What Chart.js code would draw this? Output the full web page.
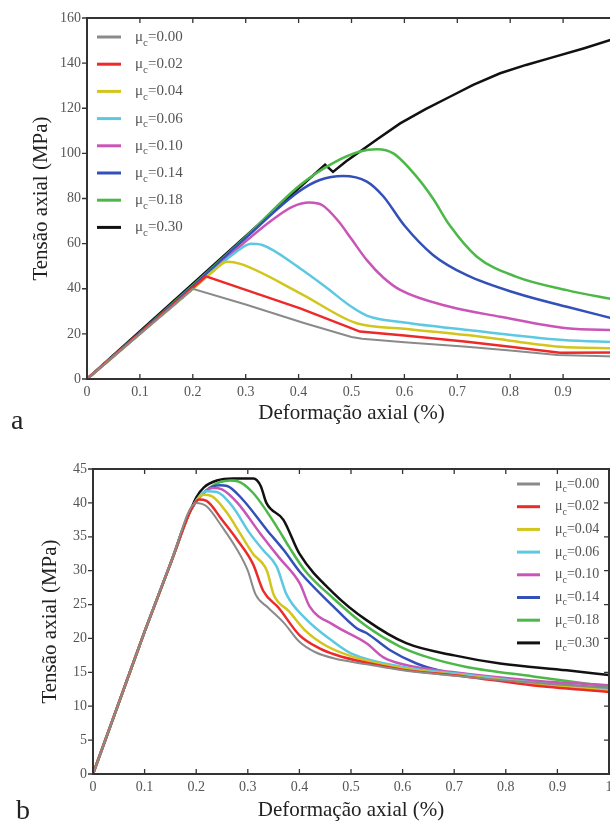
<!DOCTYPE html>
<html>
<head>
<meta charset="utf-8">
<script src="https://cdn.jsdelivr.net/npm/chart.js@4.4.0/dist/chart.umd.min.js"></script>
<style>
  body { margin: 0; width: 610px; height: 823px; overflow: hidden; background: #fff; position: relative; }
  canvas { position: absolute; left: 0; }
  #chartTop { top: 0; }
  #chartBottom { top: 450px; }
  .tag { position: absolute; font: 28px "Liberation Serif", serif; line-height: 28px; color: #222; }
</style>
</head>
<body>
<canvas id="chartTop" width="626" height="440"></canvas>
<canvas id="chartBottom" width="619" height="380"></canvas>
<div class="tag" style="left:11px;top:406px">a</div>
<div class="tag" style="left:16px;top:796px">b</div>
<script>
// friction coefficients (legend) and colours
const muValues = ["0.00", "0.02", "0.04", "0.06", "0.10", "0.14", "0.18", "0.30"];
const muColors = ["#8a8a8a", "#ec2a2a", "#d2c61c", "#5cc8e2", "#c955b6", "#3350b8", "#4cb847", "#111111"];

// x ticks (strain %), y ticks (MPa)
const strainTicks = [0, 0.1, 0.2, 0.3, 0.4, 0.5, 0.6, 0.7, 0.8, 0.9, 1];
const stressTicksA = [0, 20, 40, 60, 80, 100, 120, 140, 160];
const stressTicksB = [0, 5, 10, 15, 20, 25, 30, 35, 40, 45];

// --- chart a : [strain %, stress MPa]
const a000 = [[0,0],[0.2,40],[0.3,33],[0.41,24.8],[0.5,18.6],[0.52,17.8],[0.6,16.3],[0.718,14.3],[0.8,12.6],[0.89,10.6],[1,10]];
const a002 = [[0,0],[0.225,45.5],[0.3,39.5],[0.403,31.3],[0.516,21],[0.6,19.3],[0.718,16.5],[0.8,14.3],[0.894,11.6],[1,11.8]];
const a004 = [[0,0],[0.1,20],[0.2,40],[0.24,48],[0.265,52],[0.29,51],[0.403,38],[0.51,24.7],[0.6,22.3],[0.718,19.5],[0.8,17],[0.894,14.3],[1,13.6]];
const a006 = [[0,0],[0.1,20],[0.2,40],[0.28,56],[0.31,60],[0.33,59.5],[0.403,49],[0.45,41],[0.5,32],[0.53,28],[0.6,25],[0.72,21.7],[0.9,17.3],[1,16.3]];
const a010 = [[0,0],[0.1,20],[0.2,40],[0.3,61],[0.35,70.5],[0.39,76.5],[0.42,78.2],[0.445,77],[0.475,70],[0.5,62],[0.529,52.7],[0.56,45],[0.592,39.5],[0.686,32],[0.781,27.6],[0.907,22.5],[1,21.7]];
const a014 = [[0,0],[0.1,20.5],[0.2,41],[0.3,62.5],[0.4,83],[0.44,88.2],[0.484,90],[0.529,87.5],[0.56,81],[0.6,68],[0.654,55],[0.718,46],[0.812,38],[0.907,32],[1,26.5]];
const a018 = [[0,0],[0.1,20.5],[0.2,41.5],[0.3,63],[0.403,86],[0.465,95.7],[0.516,100.8],[0.548,101.8],[0.579,100],[0.623,89.7],[0.654,80],[0.686,68],[0.737,54.2],[0.812,45.3],[0.907,39.4],[1,35]];
const a030 = [[0,0],[0.45,95],[0.465,91.8],[0.49,96.5],[0.516,100.8],[0.55,106.5],[0.592,113.3],[0.64,119.6],[0.686,125.1],[0.73,130.4],[0.781,135.5],[0.83,139.2],[0.875,142.2],[0.94,146.6],[1,151]];

// --- chart b
const b000 = [[0,0],[0.05,10.5],[0.1,21],[0.15,31],[0.2,40],[0.22,39.5],[0.25,36.5],[0.28,33],[0.3,30],[0.315,26.5],[0.34,24.5],[0.37,22.3],[0.4,19.5],[0.43,18],[0.47,17],[0.53,16.2],[0.6,15.3],[0.7,14.5],[0.8,13.8],[0.9,13.2],[1,12.7]];
const b002 = [[0,0],[0.05,10.5],[0.1,21],[0.15,31],[0.19,39],[0.205,40.5],[0.22,40.3],[0.25,37.5],[0.28,34.5],[0.31,31],[0.33,27],[0.36,24.5],[0.4,20.5],[0.44,18.5],[0.47,17.6],[0.53,16.4],[0.6,15.4],[0.72,14.4],[0.85,13.1],[1,12.1]];
const b004 = [[0,0],[0.05,10.5],[0.1,21],[0.15,31],[0.19,39],[0.214,41.2],[0.23,41],[0.26,38.5],[0.285,35.5],[0.31,32.5],[0.337,30],[0.35,26.5],[0.38,24],[0.411,21.2],[0.45,19],[0.5,17.4],[0.6,15.6],[0.72,14.5],[0.85,13.4],[1,12.3]];
const b006 = [[0,0],[0.05,10.5],[0.1,21],[0.15,31],[0.19,39],[0.22,41.7],[0.24,41.6],[0.27,39.5],[0.304,35.5],[0.33,33],[0.356,30.6],[0.375,26.5],[0.411,23],[0.466,19.5],[0.5,17.8],[0.6,15.8],[0.72,14.7],[0.85,13.5],[1,12.5]];
const b010 = [[0,0],[0.05,10.5],[0.1,21],[0.15,31],[0.19,39],[0.233,42.2],[0.25,42],[0.28,40],[0.324,35.5],[0.36,32],[0.401,28.1],[0.42,24.7],[0.466,22],[0.53,19.3],[0.563,17.2],[0.6,16.2],[0.7,15],[0.85,13.8],[1,13.1]];
const b014 = [[0,0],[0.05,10.5],[0.1,21],[0.15,31],[0.19,39],[0.246,42.6],[0.26,42.5],[0.29,40.5],[0.337,36],[0.37,33],[0.401,29.8],[0.466,24.7],[0.511,21.5],[0.53,20.8],[0.575,18.3],[0.627,16.3],[0.68,15.1],[0.8,13.9],[1,12.6]];
const b018 = [[0,0],[0.05,10.5],[0.1,21],[0.15,31],[0.19,39],[0.266,43.3],[0.28,43.2],[0.31,41.5],[0.356,36.5],[0.38,33.5],[0.411,30],[0.466,25.9],[0.53,21.8],[0.595,18.8],[0.65,17.2],[0.724,15.8],[0.853,14.4],[1,12.9]];
const b030 = [[0,0],[0.05,10.5],[0.1,21],[0.15,31],[0.2,40.8],[0.215,42.3],[0.24,43.3],[0.272,43.6],[0.311,43.6],[0.325,42.5],[0.336,40],[0.369,37.5],[0.4,32.5],[0.466,26.7],[0.53,22.7],[0.607,19.3],[0.7,17.5],[0.789,16.3],[0.918,15.3],[1,14.6]];

const seriesA = [a000, a002, a004, a006, a010, a014, a018, a030];
const seriesB = [b000, b002, b004, b006, b010, b014, b018, b030];

Chart.defaults.font.family = '"Liberation Serif", "DejaVu Serif", serif';
Chart.defaults.color = "#555";

// box frame with small tick marks on all sides
const frame = {
  id: "frame",
  afterDraw(chart) {
    const { ctx, chartArea: a, scales: { x, y } } = chart;
    ctx.save();
    ctx.strokeStyle = "#333";
    ctx.lineWidth = 2;
    ctx.strokeRect(a.left, a.top, a.right - a.left, a.bottom - a.top);
    ctx.lineWidth = 1.3;
    ctx.beginPath();
    x.ticks.forEach(t => {
      const px = x.getPixelForValue(t.value);
      ctx.moveTo(px, a.bottom); ctx.lineTo(px, a.bottom - 5);
      ctx.moveTo(px, a.top); ctx.lineTo(px, a.top + 5);
    });
    y.ticks.forEach(t => {
      const py = y.getPixelForValue(t.value);
      ctx.moveTo(a.left - 5, py); ctx.lineTo(a.left, py);
      ctx.moveTo(a.right, py); ctx.lineTo(a.right - 5, py);
    });
    ctx.stroke();
    ctx.restore();
  }
};

// legend with subscript c in mu_c
const muLegend = {
  id: "muLegend",
  afterDraw(chart, args, o) {
    const ctx = chart.ctx;
    const fam = '"Liberation Serif", serif';
    ctx.save();
    ctx.textBaseline = "middle";
    chart.data.datasets.forEach((ds, i) => {
      const y = o.y0 + i * o.dy;
      ctx.strokeStyle = ds.borderColor;
      ctx.lineWidth = 3;
      ctx.beginPath();
      ctx.moveTo(o.x0, y);
      ctx.lineTo(o.x0 + o.len, y);
      ctx.stroke();
      ctx.fillStyle = "#555";
      let x = o.tx;
      ctx.font = o.size + "px " + fam;
      ctx.fillText("μ", x, y);
      x += ctx.measureText("μ").width;
      ctx.font = Math.round(o.size * 0.7) + "px " + fam;
      ctx.fillText("c", x, y + o.size * 0.38);
      x += ctx.measureText("c").width;
      ctx.font = o.size + "px " + fam;
      ctx.fillText("=" + muValues[i], x, y);
    });
    ctx.restore();
  }
};

function makeChart(id, series, yTicks, lay) {
  const datasets = series.map((pts, i) => {
    const straight = lay.straight.includes(i);
    return {
      label: "μc=" + muValues[i],
      data: pts.map(([x, y]) => ({ x, y })),
      borderColor: muColors[i],
      borderWidth: i === 0 ? 2 : 2.5,
      pointRadius: 0,
      fill: false,
      tension: 0,
      cubicInterpolationMode: straight ? "default" : "monotone"
    };
  });
  return new Chart(document.getElementById(id), {
    type: "line",
    data: { datasets },
    options: {
      responsive: false,
      animation: false,
      layout: { padding: { top: lay.top, right: 10, left: 0, bottom: 0 } },
      plugins: {
        legend: { display: false },
        tooltip: { enabled: false },
        muLegend: lay.legend
      },
      scales: {
        x: {
          type: "linear",
          min: 0, max: 1,
          afterBuildTicks: s => { s.ticks = strainTicks.map(v => ({ value: v })); },
          afterFit: s => { s.height = lay.xh; },
          grid: { display: false, drawTicks: false },
          border: { display: false },
          ticks: { padding: 5, font: { size: 14 }, maxRotation: 0, callback: v => String(+v.toFixed(1)) },
          title: { display: true, text: "Deformação axial (%)", color: "#222", font: { size: 21, lineHeight: 1 }, padding: { top: 0, bottom: lay.xtp } }
        },
        y: {
          min: 0, max: yTicks[yTicks.length - 1],
          afterBuildTicks: s => { s.ticks = yTicks.map(v => ({ value: v })); },
          afterFit: s => { s.width = lay.yw; },
          grid: { display: false, drawTicks: false },
          border: { display: false },
          ticks: { padding: 6, font: { size: 14 } },
          title: { display: true, text: "Tensão axial (MPa)", color: "#222", font: { size: 21, lineHeight: 1 }, padding: { top: lay.ytp, bottom: 0 } }
        }
      }
    },
    plugins: [frame, muLegend]
  });
}

makeChart("chartTop", seriesA, stressTicksA, {
  top: 18, xh: 61, yw: 87, xtp: 16.5, ytp: 30.5, straight: [0, 1, 7],
  legend: { x0: 97, len: 24, tx: 135, y0: 37, dy: 27.2, size: 15 }
});
makeChart("chartBottom", seriesB, stressTicksB, {
  top: 19, xh: 56, yw: 93, xtp: 9.5, ytp: 39.5, straight: [],
  legend: { x0: 517, len: 23, tx: 555, y0: 34, dy: 22.7, size: 14 }
});
</script>
</body>
</html>
